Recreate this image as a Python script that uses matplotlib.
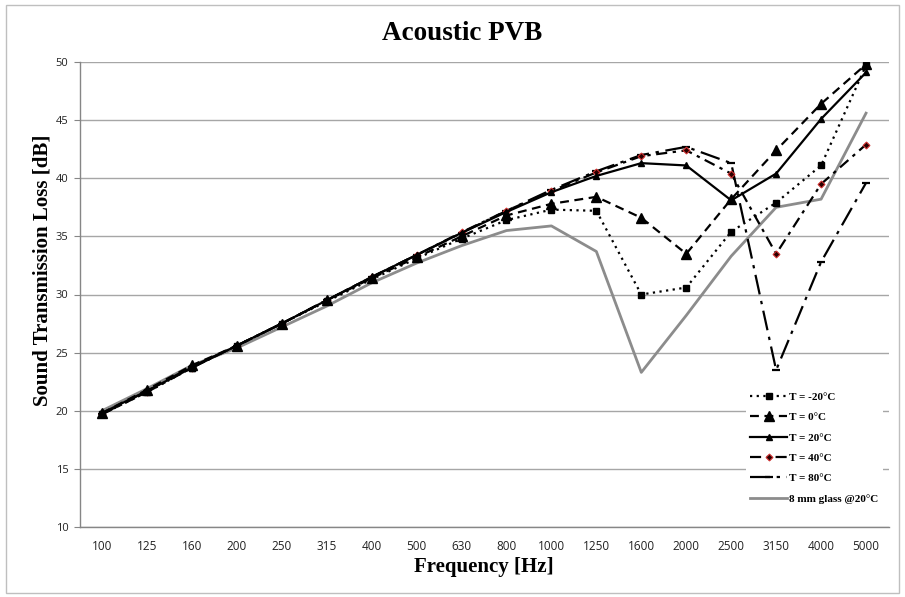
import matplotlib.pyplot as plt
import numpy as np

freqs = ['100', '125', '160', '200', '250', '315', '400', '500', '630', '800',
         '1000', '1250', '1600', '2000', '2500', '3150', '4000', '5000']

t_m20 = [19.7, 21.6, 23.7, 25.6, 27.5, 29.4, 31.3, 33.1, 34.8, 36.4,
         37.3, 37.2, 30.0, 30.6, 35.4, 37.9, 41.1, 49.7]
t_0 = [19.8, 21.8, 23.9, 25.6, 27.5, 29.5, 31.4, 33.2, 35.0, 36.8,
       37.8, 38.4, 36.6, 33.5, 38.2, 42.4, 46.4, 49.8]
t_20 = [19.8, 21.7, 23.7, 25.6, 27.5, 29.5, 31.5, 33.4, 35.3, 37.1,
        38.8, 40.2, 41.3, 41.1, 38.1, 40.4, 45.1, 49.1]
t_40 = [19.7, 21.6, 23.7, 25.6, 27.5, 29.5, 31.5, 33.4, 35.35, 37.2,
        38.9, 40.5, 41.9, 42.4, 40.4, 33.5, 39.5, 42.9]
t_80 = [19.7, 21.7, 23.8, 25.6, 27.5, 29.5, 31.5, 33.4, 35.3, 37.2,
        39.0, 40.6, 42.0, 42.7, 41.3, 23.5, 32.8, 39.6]
glass = [20.0, 21.9, 23.9, 25.4, 27.2, 29.0, 31.0, 32.7, 34.2, 35.5,
         35.9, 33.7, 23.3, 28.2, 33.3, 37.5, 38.2, 45.6]

serif = 'Liberation Serif'

fig = plt.figure(figsize=(9.05, 5.97), dpi=100)
ax = fig.add_axes([79.5 / 905, 70 / 597, 809 / 905, 465 / 597])

x = np.arange(len(freqs))
ax.plot(x, glass, color='#8c8c8c', lw=2, label='8 mm glass @20°C', zorder=2)
ax.plot(x, t_80, color='black', lw=1.6, ls=(0, (9, 3, 1.5, 3)),
        marker='_', ms=6, mew=1.6, label='T = 80°C', zorder=3)
ax.plot(x, t_40, color='black', lw=1.6, ls=(0, (5, 2.5, 1.5, 2.5)),
        marker='D', ms=3.5, mfc='#2a0000', mec='#d03030', mew=0.8,
        label='T = 40°C', zorder=4)
ax.plot(x, t_20, color='black', lw=1.6, ls='-',
        marker='^', ms=4, label='T = 20°C', zorder=5)
ax.plot(x, t_0, color='black', lw=1.6, ls=(0, (4, 2.5)),
        marker='^', ms=6.5, label='T = 0°C', zorder=5)
ax.plot(x, t_m20, color='black', lw=1.6, ls=(0, (1, 2)),
        marker='s', ms=5, label='T = -20°C', zorder=6)

ax.set_xlim(-0.5, len(freqs) - 0.5)
ax.set_ylim(10, 50)
ax.set_yticks(range(10, 51, 5))
ax.set_xticks(x)
ax.set_xticklabels(freqs)
ax.tick_params(axis='x', length=0, pad=9, labelsize=8.5, labelcolor='#222222')
ax.tick_params(axis='y', length=4, width=0.8, color='#868686', pad=4,
               labelsize=8, labelcolor='#222222', direction='out')
for lbl in ax.get_xticklabels() + ax.get_yticklabels():
    lbl.set_family('Open Sans')

ax.grid(axis='y', color='#a6a6a6', lw=1)
ax.set_axisbelow(True)
for s in ['top', 'right']:
    ax.spines[s].set_visible(False)
for s in ['left', 'bottom']:
    ax.spines[s].set_color('#868686')
    ax.spines[s].set_linewidth(1)

handles, labels = ax.get_legend_handles_labels()
order = [5, 4, 3, 2, 1, 0]
leg = ax.legend([handles[i] for i in order], [labels[i] for i in order],
                loc='lower right', bbox_to_anchor=(1.0, 0.0286),
                frameon=True, framealpha=1, edgecolor='none', fancybox=False,
                handlelength=3.3, handletextpad=0.2, labelspacing=0.95,
                borderpad=0.4, prop={'family': serif, 'weight': 'bold', 'size': 8})

fig.text(462 / 905, 1 - 33 / 597, 'Acoustic PVB', ha='center', va='center',
         family=serif, weight='bold', fontsize=19.5)
fig.text(484 / 905, 1 - 567 / 597, 'Frequency [Hz]', ha='center', va='center',
         family=serif, weight='bold', fontsize=15)
fig.text(42 / 905, 1 - 270 / 597, 'Sound Transmission Loss [dB]', ha='center',
         va='center', rotation=90, family=serif, weight='bold', fontsize=15)

border = plt.Rectangle((6 / 905, 4 / 597), 893 / 905, 588 / 597,
                       transform=fig.transFigure, fill=False,
                       edgecolor='#bfbfbf', lw=1)
fig.patches.append(border)

fig.savefig('out.png', dpi=100)
